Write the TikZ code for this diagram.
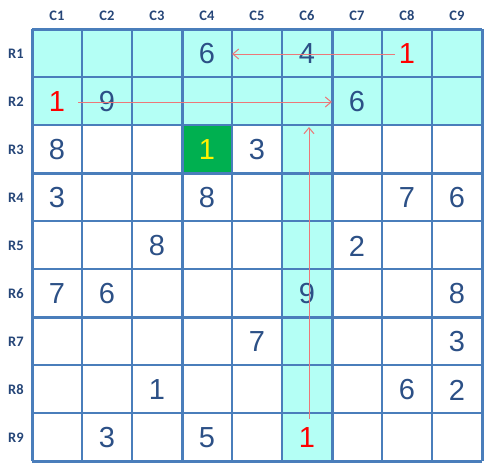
\documentclass[tikz,border=0pt]{standalone}
\usepackage{fontspec}
\setmainfont{Liberation Sans}
\newfontfamily\labelfont{Carlito}
\usepackage{tikz}
\usetikzlibrary{arrows.meta}
\definecolor{gridblue}{RGB}{74,126,187}
\definecolor{digitblue}{RGB}{44,80,134}
\definecolor{labelblue}{RGB}{38,70,120}
\definecolor{hicyan}{RGB}{180,255,245}
\definecolor{cellgreen}{RGB}{0,176,80}
\definecolor{pathred}{RGB}{236,120,120}
\tikzstyle{cell} = [minimum width=50pt,minimum height=48pt,inner sep=0pt,outer sep=0pt]
\tikzstyle{digit} = [text=digitblue,font=\fontsize{29}{29}\selectfont,inner sep=0pt,yshift=-1pt]
\tikzstyle{head} = [text=labelblue,font=\labelfont\bfseries\fontsize{14.5}{14.5}\selectfont]
\tikzstyle{thinline} = [draw=gridblue,line width=1.3pt]
\tikzstyle{thickline} = [draw=gridblue,line width=3pt]
\tikzstyle{arrow} = [pathred,line width=1pt,-{Straight Barb[length=6pt,width=10pt]}]

\begin{document}
\begin{tikzpicture}[x=1pt,y=1pt]
	\useasboundingbox (0,0) rectangle (496,-471);
	% cells
	\foreach \r in {1,...,9}
		\foreach \c in {1,...,9}
			\node[cell] (c\r\c) at ({57+50*(\c-1)},{-53-48*(\r-1)}) {};
	\fill[hicyan] (c11.north west) rectangle (c29.south east);
	\fill[hicyan] (c36.north west) rectangle (c96.south east);
	\fill[cellgreen] (c34.north west) rectangle (c34.south east);
	% grid
	\foreach \i in {0,...,9} {
		\draw[thinline] ({32+50*\i},-29) -- ({32+50*\i},-461);
		\draw[thinline] (32,{-29-48*\i}) -- (482,{-29-48*\i});
	}
	\foreach \i in {0,3,6,9} {
		\draw[thickline] ({32+50*\i},-29) -- ({32+50*\i},-461);
		\draw[thickline] (32,{-29-48*\i}) -- (482,{-29-48*\i});
	}
	% headers
	\foreach \c in {1,...,9}
		\node[head] (col\c) at ({57+50*(\c-1)},-16) {C\c};
	\foreach \r in {1,...,9}
		\node[head] (row\r) at (16,{-54-48*(\r-1)}) {R\r};
	% givens
	\foreach \r/\c/\d in {1/4/6,1/6/4,2/2/9,2/7/6,3/1/8,3/5/3,4/1/3,4/4/8,4/8/7,4/9/6,
		5/3/8,5/7/2,6/1/7,6/2/6,6/6/9,6/9/8,7/5/7,7/9/3,8/3/1,8/8/6,8/9/2,9/2/3,9/4/5}
		\node[digit] (n\r\c) at (c\r\c) {\d};
	\foreach \r/\c in {1/8,2/1,9/6}
		\node[digit,text=red] (n\r\c) at (c\r\c) {1};
	\node[digit,text=yellow] (n34) at (c34) {1};
	% links
	\draw[arrow] ([xshift=-3.5pt]n18.west) -- (c14.east |- n18.west);
	\draw[arrow] ([xshift=13pt]n21.east) -- (c27.west |- n21.east);
	\draw[arrow] ([xshift=2pt,yshift=9pt]n96.north) -- ([xshift=2pt,yshift=-2pt]c36.north);
\end{tikzpicture}
\end{document}
